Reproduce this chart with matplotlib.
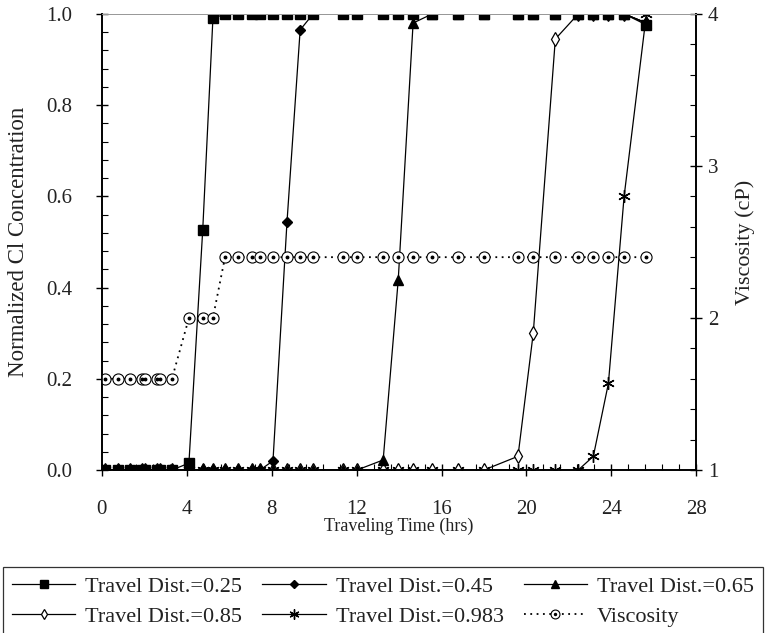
import numpy as np
import matplotlib
matplotlib.use("Agg")
from matplotlib import pyplot as plt
from matplotlib.ticker import MultipleLocator, FormatStrFormatter
from matplotlib.legend_handler import HandlerTuple

# sampling times (hrs), shared by all series
time_hrs = [0.14, 0.75, 1.32, 1.89, 2.03, 2.59, 2.74, 3.3, 4.1, 4.75, 5.23,
            5.8, 6.41, 7.07, 7.45, 8.06, 8.72, 9.34, 9.95, 11.36, 12.02,
            13.25, 13.96, 14.66, 15.56, 16.78, 18.0, 19.6, 20.32, 21.36,
            22.44, 23.15, 23.86, 24.6, 25.65]

dist_025 = [0, 0, 0, 0, 0, 0, 0, 0, 0.015, 0.526, 0.99,
            1, 1, 1, 1, 1, 1, 1, 1, 1, 1,
            1, 1, 1, 1, 1, 1, 1, 1, 1,
            1, 1, 1, 1, 0.976]
dist_045 = [0, 0, 0, 0, 0, 0, 0, 0, 0, 0, 0,
            0, 0, 0, 0, 0.02, 0.544, 0.965, 1, 1, 1,
            1, 1, 1, 1, 1, 1, 1, 1, 1,
            1, 1, 1, 1, 0.98]
dist_065 = [0, 0, 0, 0, 0, 0, 0, 0, 0, 0, 0,
            0, 0, 0, 0, 0, 0, 0, 0, 0, 0,
            0.022, 0.417, 0.98, 1, 1, 1, 1, 1, 1,
            1, 1, 1, 1, 0.98]
dist_085 = [0, 0, 0, 0, 0, 0, 0, 0, 0, 0, 0,
            0, 0, 0, 0, 0, 0, 0, 0, 0, 0,
            0, 0, 0, 0, 0, 0, 0.03, 0.30, 0.945,
            1, 1, 1, 1, 0.98]
dist_0983 = [0, 0, 0, 0, 0, 0, 0, 0, 0, 0, 0,
             0, 0, 0, 0, 0, 0, 0, 0, 0, 0,
             0, 0, 0, 0, 0, 0, 0, 0, 0,
             0, 0.03, 0.19, 0.60, 1.0]
viscosity = [1.6, 1.6, 1.6, 1.6, 1.6, 1.6, 1.6, 1.6, 2.0, 2.0, 2.0,
             2.4, 2.4, 2.4, 2.4, 2.4, 2.4, 2.4, 2.4, 2.4, 2.4,
             2.4, 2.4, 2.4, 2.4, 2.4, 2.4, 2.4, 2.4, 2.4,
             2.4, 2.4, 2.4, 2.4, 2.4]

plt.rcParams["font.family"] = ["Liberation Serif", "DejaVu Serif"]
TXT = "#222222"
FS_TICK = 15

fig = plt.figure(figsize=(7.66, 6.33), dpi=100)
ax = fig.add_axes([0.133, 0.2575, 0.776, 0.7205])
ax2 = ax.twinx()

lw = 0.9
# drawn back to front so the nearest travel distance ends up on top
h5, = ax.plot(time_hrs, dist_0983, color="black", lw=lw, marker=(6, 2, 0),
              ms=9, mew=1.0, label="Travel Dist.=0.983")
h4, = ax.plot(time_hrs, dist_085, color="black", lw=lw, marker="d", ms=7,
              mfc="white", mew=0.9, label="Travel Dist.=0.85")
h3, = ax.plot(time_hrs, dist_065, color="black", lw=lw, marker="^", ms=7,
              label="Travel Dist.=0.65")
h2, = ax.plot(time_hrs, dist_045, color="black", lw=lw, marker="D", ms=5,
              label="Travel Dist.=0.45")
h1, = ax.plot(time_hrs, dist_025, color="black", lw=lw, marker="s", ms=7,
              label="Travel Dist.=0.25")

h6, = ax2.plot(time_hrs, viscosity, color="black", lw=1.3, ls=(0, (1, 2.5)),
               marker="o", ms=8, mfc="white", mew=0.8, label="Viscosity")
h6d, = ax2.plot(time_hrs, viscosity, ls="none", marker="o", ms=1.8,
                color="black")

ax.set_xlim(0, 28)
ax.set_ylim(0, 1.0)
ax2.set_ylim(1, 4)

ax.xaxis.set_major_locator(MultipleLocator(4))
ax.xaxis.set_minor_locator(MultipleLocator(0.8))
ax.yaxis.set_major_locator(MultipleLocator(0.2))
ax.yaxis.set_minor_locator(MultipleLocator(0.04))
ax.yaxis.set_major_formatter(FormatStrFormatter("%.1f"))
ax2.yaxis.set_major_locator(MultipleLocator(1))
ax2.yaxis.set_minor_locator(MultipleLocator(0.2))

for a in (ax, ax2):
    a.tick_params(which="major", direction="inout", length=9, width=1.0,
                  labelsize=FS_TICK, labelcolor=TXT)
    a.tick_params(which="minor", direction="in", length=4, width=0.8)
ax.tick_params(axis="x", top=False, pad=17)
ax.tick_params(axis="y", pad=17)
ax2.tick_params(axis="y", pad=4)

for a in (ax, ax2):
    a.spines["top"].set_color("#999999")
    a.spines["top"].set_linewidth(0.7)
    for s in ("left", "right", "bottom"):
        a.spines[s].set_linewidth(1.2)

ax.set_xlabel("Traveling Time (hrs)", fontsize=13, color=TXT)
ax.set_ylabel("Normalized Cl Concentration", fontsize=16.5, color=TXT)
ax2.set_ylabel("Viscosity (cP)", fontsize=16, color=TXT)
ax.xaxis.set_label_coords(0.5, -0.105)
ax.yaxis.set_label_coords(-0.122, 0.5)
ax2.yaxis.set_label_coords(1.066, 0.5)

handles = [h1, h4, h2, h5, h3, (h6, h6d)]
labels = ["Travel Dist.=0.25", "Travel Dist.=0.85", "Travel Dist.=0.45",
          "Travel Dist.=0.983", "Travel Dist.=0.65", "Viscosity"]
leg = fig.legend(handles=handles, labels=labels,
                 handler_map={tuple: HandlerTuple(ndivide=1, pad=0)},
                 loc="upper center", bbox_to_anchor=(0.5, 0.104), ncol=3,
                 fontsize=16, frameon=True, fancybox=False, edgecolor="black",
                 handlelength=2.85, columnspacing=0.9, handletextpad=0.45,
                 borderpad=0.4, labelspacing=0.45, markerscale=0.8,
                 borderaxespad=0)
leg.get_frame().set_linewidth(0.9)
for t in leg.get_texts():
    t.set_color(TXT)

fig.savefig("out.png", dpi=100)
